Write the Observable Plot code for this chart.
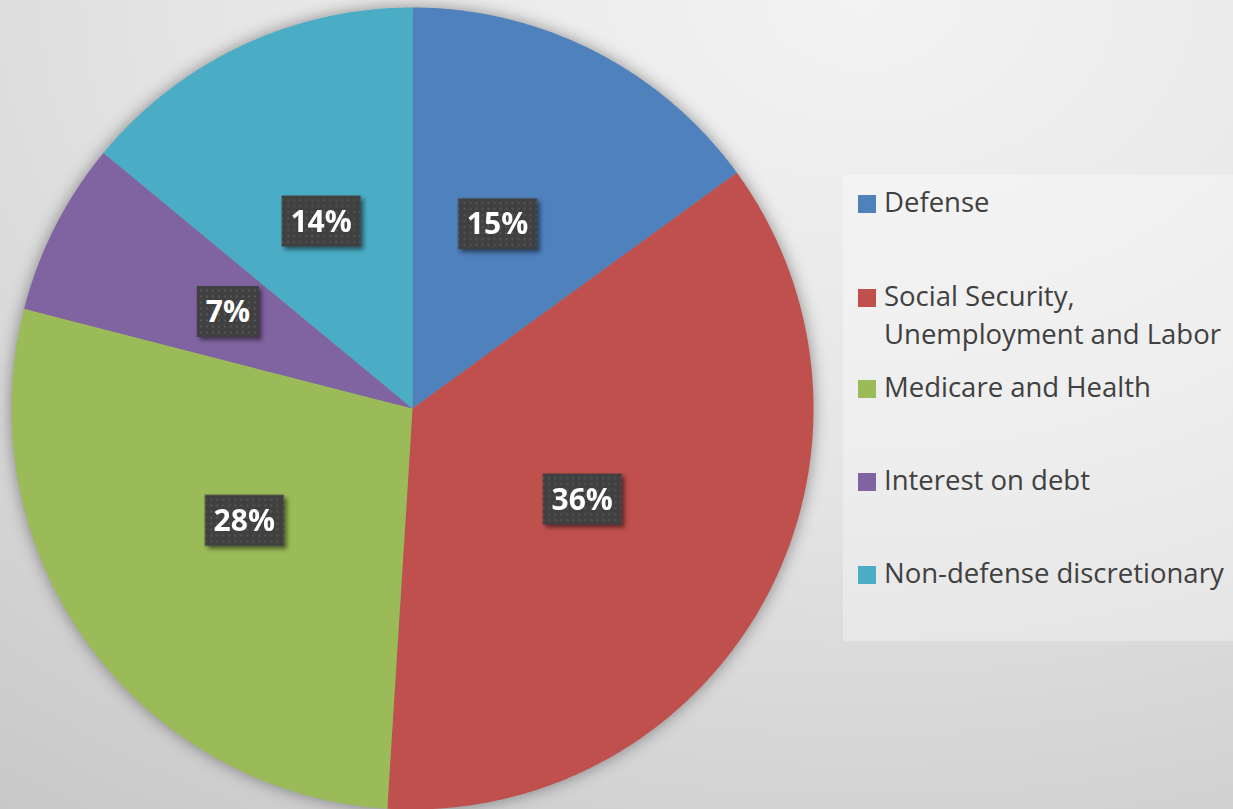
<!DOCTYPE html>
<html>
<head>
<meta charset="utf-8">
<script src="https://cdn.jsdelivr.net/npm/d3@7"></script>
<script src="https://cdn.jsdelivr.net/npm/@observablehq/plot@0.6"></script>
<style>
  html, body { margin: 0; padding: 0; }
  body {
    width: 1233px; height: 809px; overflow: hidden;
    background: radial-gradient(ellipse 120% 130% at 70% 0%, #f3f3f3 0%, #e5e5e5 45%, #c6c6c6 100%);
    font-family: "Open Sans", sans-serif;
  }
  #wrap { position: relative; width: 1233px; height: 809px; }
  #chart { position: absolute; left: 0; top: 0; }
  #legend {
    position: absolute; left: 843px; top: 175px; width: 390px; height: 466px;
    background: rgba(255,255,255,0.32);
  }
  .item { position: absolute; left: 15px; color: #404040; font-size: 27.5px; line-height: 38px; }
  .sw { position: absolute; left: 0; width: 18px; height: 18px; }
  .lbl { position: absolute; left: 26px; white-space: nowrap; }
</style>
</head>
<body>
<div id="wrap">
  <div id="chart"></div>
  <div id="legend"></div>
</div>
<script>
const categories = ["Defense", "Social Security, Unemployment and Labor", "Medicare and Health", "Interest on debt", "Non-defense discretionary"];
const legendLines = [["Defense"], ["Social Security,", "Unemployment and Labor"], ["Medicare and Health"], ["Interest on debt"], ["Non-defense discretionary"]];
const shares = [15, 36, 28, 7, 14];
const labels = ["15%", "36%", "28%", "7%", "14%"];
const colors = ["#4F81BD", "#C0504D", "#9BBB59", "#8064A2", "#4BACC6"];

const arcs = d3.pie().sort(null).value(d => d)(shares);

function arcRing(a0, a1) {
  const pts = [[0, 0]];
  const n = Math.max(2, Math.ceil((a1 - a0) / 0.005));
  for (let i = 0; i <= n; i++) {
    const a = a0 + (a1 - a0) * i / n;
    pts.push([Math.sin(a), -Math.cos(a)]);
  }
  pts.push([0, 0]);
  return pts;
}

const slices = {
  type: "FeatureCollection",
  features: arcs.map((a, i) => ({
    type: "Feature",
    properties: {name: categories[i], color: colors[i]},
    geometry: {type: "Polygon", coordinates: [arcRing(a.startAngle, a.endAngle)]}
  }))
};

const labelData = arcs.map((a, i) => {
  const mid = (a.startAngle + a.endAngle) / 2;
  const k = 0.5;
  return {label: labels[i], x: k * Math.sin(mid), y: -k * Math.cos(mid), wide: labels[i].length > 2};
});

const box = (w, h) => ({draw(ctx) { ctx.rect(-w / 2, -h / 2, w, h); }});

const domainSquare = {type: "Polygon", coordinates: [[[-1, -1], [1, -1], [1, 1], [-1, 1], [-1, -1]]]};

const off = -6;

const plot = Plot.plot({
  width: 843,
  height: 809,
  marginLeft: 11,
  marginRight: 30,
  marginTop: 7,
  marginBottom: 0,
  style: {background: "transparent", fontFamily: "'Open Sans', sans-serif"},
  projection: {type: "identity", domain: domainSquare},
  marks: [
    Plot.geo(slices.features, {fill: d => d.properties.color, stroke: "none"}),
    Plot.dot(labelData.filter(d => d.wide), {x: "x", y: "y", dx: off, dy: off, symbol: box(79, 51), fill: "#404040", stroke: "none"}),
    Plot.dot(labelData.filter(d => !d.wide), {x: "x", y: "y", dx: off, dy: off, symbol: box(62, 51), fill: "#404040", stroke: "none"}),
    Plot.text(labelData, {x: "x", y: "y", dx: off, dy: off + 1, text: "label", fill: "white", fontSize: 30, fontWeight: "bold"})
  ]
});

// pattern for label boxes
const ns = "http://www.w3.org/2000/svg";
const defs = document.createElementNS(ns, "defs");
defs.innerHTML = `<pattern id="dotpat" width="6" height="6" patternUnits="userSpaceOnUse">
  <rect width="6" height="6" fill="#404040"/><rect x="2" y="2" width="2" height="2" fill="#575757"/></pattern>`;
plot.insertBefore(defs, plot.firstChild);

const geoG = plot.querySelector('g[aria-label="geo"]');
if (geoG) geoG.style.filter = "drop-shadow(0px 0px 8px rgba(0,0,0,0.4))";
plot.querySelectorAll('g[aria-label="dot"]').forEach(g => {
  g.setAttribute("fill", "url(#dotpat)");
  g.querySelectorAll("path").forEach(p => p.setAttribute("fill", "url(#dotpat)"));
  g.style.filter = "drop-shadow(3px 3px 2px rgba(0,0,0,0.5))";
});

document.getElementById("chart").appendChild(plot);

// legend
const legendTops = [8, 102, 193, 286, 379];
const legend = d3.select("#legend");
legendLines.forEach((lines, i) => {
  const item = legend.append("div").attr("class", "item").style("top", legendTops[i] + "px");
  item.append("div").attr("class", "sw").style("background", colors[i]).style("top", "12px");
  item.append("div").attr("class", "lbl").html(lines.join("<br>"));
});
</script>
</body>
</html>
